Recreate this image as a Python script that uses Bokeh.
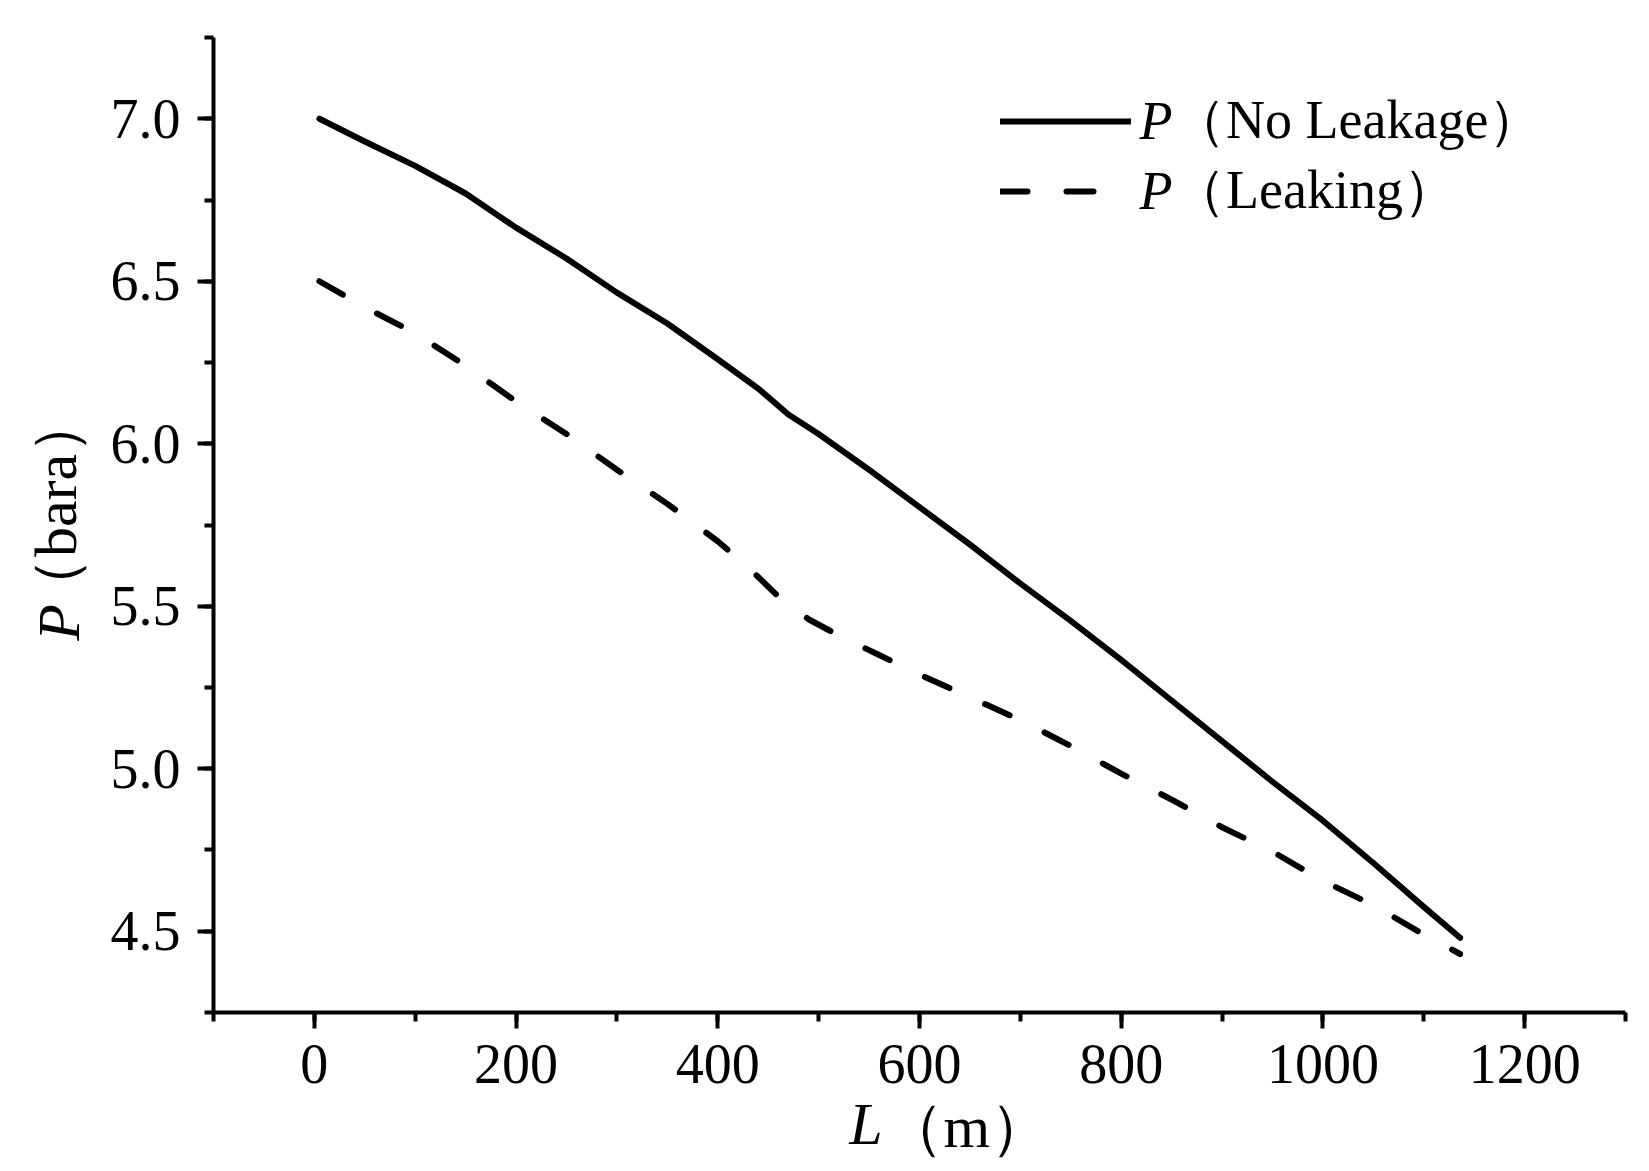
from bokeh.plotting import figure
from bokeh.models import (Range1d, SingleIntervalTicker, FixedTicker, NumeralTickFormatter,
                          Legend, LegendItem, Label, ColumnDataSource, LinearAxis)
from bokeh.embed import file_html
from bokeh.resources import INLINE

# ---- data ----
length_no_leak = [5, 50, 100, 150, 200, 250, 300, 350, 400, 440, 470, 500, 550,
                  600, 650, 700, 750, 800, 850, 900, 950, 1000, 1050, 1100, 1136]
pressure_no_leak = [7.00, 6.93, 6.855, 6.77, 6.665, 6.57, 6.465, 6.37, 6.26, 6.17,
                    6.09, 6.03, 5.92, 5.805, 5.69, 5.57, 5.455, 5.335, 5.21, 5.085,
                    4.96, 4.84, 4.71, 4.575, 4.48]

length_leak = [5, 50, 100, 150, 200, 250, 300, 350, 400, 430, 460, 490, 520, 560,
               600, 650, 700, 750, 800, 850, 900, 950, 1000, 1050, 1100, 1136]
pressure_leak = [6.50, 6.42, 6.34, 6.24, 6.13, 6.03, 5.92, 5.815, 5.70, 5.62, 5.53,
                 5.46, 5.41, 5.35, 5.29, 5.22, 5.15, 5.07, 4.985, 4.905, 4.82, 4.745,
                 4.655, 4.58, 4.49, 4.43]

series_labels = ["（No Leakage）", "（Leaking）"]
x_label_parts = ["L", "（m）"]
y_label_parts = ["P", "（bara）"]

FONT = "Liberation Serif"
TICK_FS = "56px"
LEG_FS = "54px"
TITLE_FS = "60px"

p = figure(width=1641, height=1163, output_backend="svg", toolbar_location=None,
           x_range=Range1d(-100.001, 1300.001), y_range=Range1d(4.24999, 7.25001),
           min_border_left=213, min_border_right=16, min_border_top=37,
           min_border_bottom=151, background_fill_color="white",
           border_fill_color="white")
p.outline_line_color = None
p.grid.visible = False

src_no = ColumnDataSource(dict(x=length_no_leak, y=pressure_no_leak))
src_lk = ColumnDataSource(dict(x=length_leak, y=pressure_leak))
r_no = p.line("x", "y", source=src_no, line_color="black", line_width=6,
              line_cap="round", line_join="round")
r_lk = p.line("x", "y", source=src_lk, line_color="black", line_width=6,
              line_cap="round", line_join="round", line_dash="27 39")

for ax in (p.xaxis[0], p.yaxis[0]):
    ax.axis_line_color = "black"
    ax.axis_line_width = 4
    ax.major_tick_line_color = "black"
    ax.major_tick_line_width = 4
    ax.minor_tick_line_color = "black"
    ax.minor_tick_line_width = 4
    ax.major_tick_in = 0
    ax.major_tick_out = 16
    ax.minor_tick_in = 0
    ax.minor_tick_out = 9
    ax.major_label_text_font = FONT
    ax.major_label_text_font_size = TICK_FS
    ax.major_label_text_color = "black"

p.xaxis[0].ticker = SingleIntervalTicker(interval=200, num_minor_ticks=2)
p.yaxis[0].ticker = SingleIntervalTicker(interval=0.5, num_minor_ticks=2)
p.yaxis[0].formatter = NumeralTickFormatter(format="0.0")
p.xaxis[0].major_label_standoff = 16
p.yaxis[0].major_label_standoff = 17


# ---- axis titles: italic symbol + upright unit, each on a bare helper axis ----
def title_axis(pos, text, italic, standoff, vertical=False):
    ax = LinearAxis(ticker=FixedTicker(ticks=[pos], minor_ticks=[]),
                    major_label_overrides={pos: text})
    ax.axis_line_color = None
    ax.major_tick_line_color = None
    ax.minor_tick_line_color = None
    ax.major_tick_in = 0
    ax.major_tick_out = 0
    ax.minor_tick_in = 0
    ax.minor_tick_out = 0
    ax.major_label_text_font = FONT
    ax.major_label_text_font_size = TITLE_FS
    ax.major_label_text_color = "black"
    ax.major_label_text_font_style = "italic" if italic else "normal"
    ax.major_label_standoff = standoff
    if vertical:
        ax.major_label_orientation = "vertical"
    return ax

X_L_POS, X_M_POS = 547, 647
Y_P_POS, Y_BARA_POS = 5.45, 5.81
TEXT_H = 66

p.add_layout(title_axis(X_L_POS, x_label_parts[0], True, 5), "below")
p.add_layout(title_axis(X_M_POS, x_label_parts[1], False, -TEXT_H), "below")
p.add_layout(title_axis(Y_P_POS, y_label_parts[0], True, 15, vertical=True), "left")
p.add_layout(title_axis(Y_BARA_POS, y_label_parts[1], False, -TEXT_H, vertical=True), "left")

# ---- legend: one entry per legend box so each row sits where the reference has it ----
leg_style = dict(orientation="vertical", padding=0, margin=0, spacing=0,
                 glyph_width=131, glyph_height=66, label_height=66, label_standoff=41,
                 label_text_font=FONT, label_text_font_size=LEG_FS,
                 label_text_color="black", border_line_alpha=0,
                 background_fill_alpha=0)
leg_a = Legend(items=[LegendItem(label=series_labels[0], renderers=[r_no])],
               location=(787, 855), **leg_style)
leg_b = Legend(items=[LegendItem(label=series_labels[1], renderers=[r_lk])],
               location=(787, 785), **leg_style)
p.add_layout(leg_a, "center")
p.add_layout(leg_b, "center")
common = dict(x_units="screen", y_units="screen", text_font=FONT,
              text_font_size=LEG_FS, text_color="black")
p.add_layout(Label(x=926, y=892, text="P", text_font_style="italic",
                   text_baseline="middle", text_align="left", **common))
p.add_layout(Label(x=926, y=822, text="P", text_font_style="italic",
                   text_baseline="middle", text_align="left", **common))

open("out.html", "w").write(file_html(p, INLINE))
